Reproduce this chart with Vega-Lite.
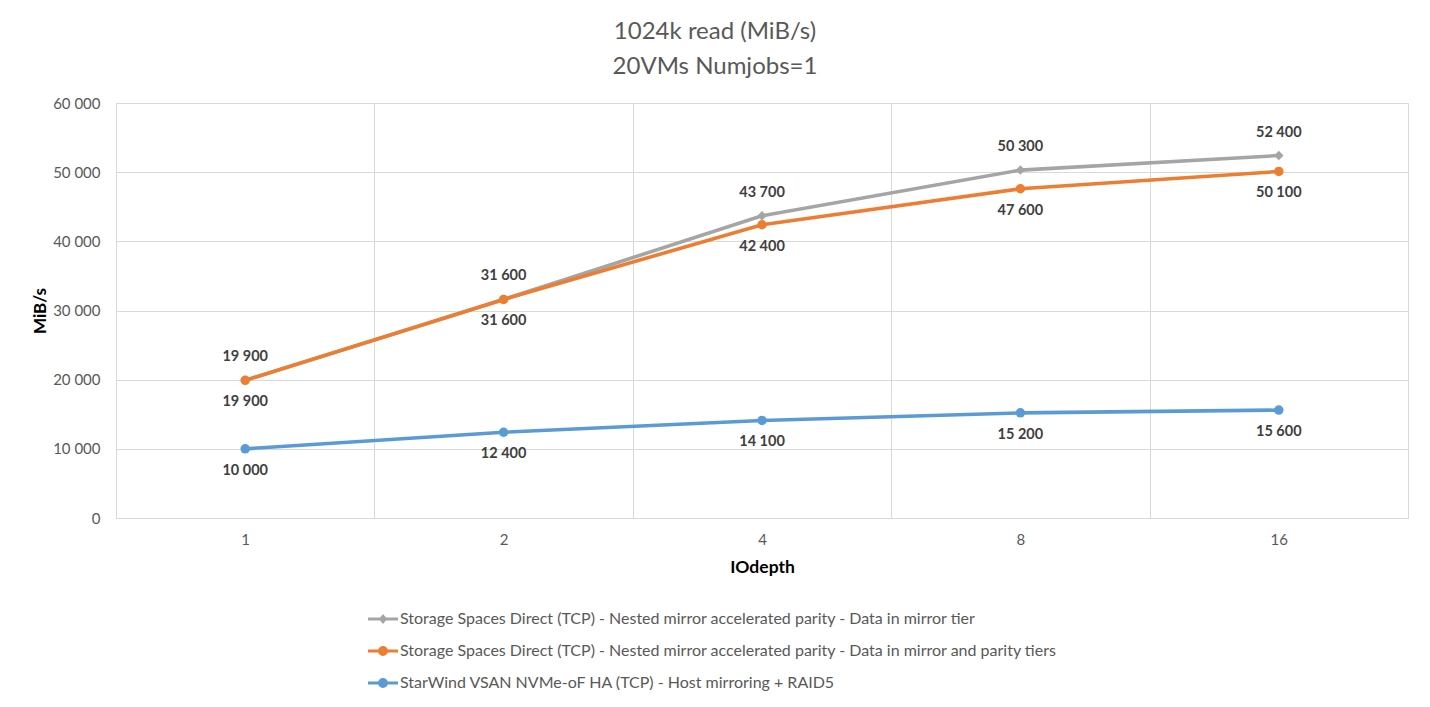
{
  "$schema": "https://vega.github.io/schema/vega-lite/v6.json",
  "width": 1292,
  "height": 415,
  "autosize": "none",
  "padding": {"left": 116, "top": 103, "right": 22, "bottom": 189},
  "background": "#ffffff",
  "title": {
    "text": ["1024k read (MiB/s)", "20VMs Numjobs=1"],
    "anchor": "middle",
    "frame": "group",
    "dx": -47,
    "offset": 17,
    "font": "Lato",
    "fontSize": 24,
    "fontWeight": "normal",
    "color": "#595959",
    "lineHeight": 35
  },
  "config": {
    "locale": {"number": {"decimal": ",", "thousands": " ", "grouping": [3], "currency": ["", ""]}},
    "view": {"stroke": "#d9d9d9", "strokeWidth": 1},
    "font": "Lato"
  },
  "data": {
    "values": [
      {"series": "Storage Spaces Direct (TCP) - Nested mirror accelerated parity - Data in mirror tier", "iodepth": 1, "value": 19900},
      {"series": "Storage Spaces Direct (TCP) - Nested mirror accelerated parity - Data in mirror tier", "iodepth": 2, "value": 31600},
      {"series": "Storage Spaces Direct (TCP) - Nested mirror accelerated parity - Data in mirror tier", "iodepth": 4, "value": 43700},
      {"series": "Storage Spaces Direct (TCP) - Nested mirror accelerated parity - Data in mirror tier", "iodepth": 8, "value": 50300},
      {"series": "Storage Spaces Direct (TCP) - Nested mirror accelerated parity - Data in mirror tier", "iodepth": 16, "value": 52400},
      {"series": "Storage Spaces Direct (TCP) - Nested mirror accelerated parity - Data in mirror and parity tiers", "iodepth": 1, "value": 19900},
      {"series": "Storage Spaces Direct (TCP) - Nested mirror accelerated parity - Data in mirror and parity tiers", "iodepth": 2, "value": 31600},
      {"series": "Storage Spaces Direct (TCP) - Nested mirror accelerated parity - Data in mirror and parity tiers", "iodepth": 4, "value": 42400},
      {"series": "Storage Spaces Direct (TCP) - Nested mirror accelerated parity - Data in mirror and parity tiers", "iodepth": 8, "value": 47600},
      {"series": "Storage Spaces Direct (TCP) - Nested mirror accelerated parity - Data in mirror and parity tiers", "iodepth": 16, "value": 50100},
      {"series": "StarWind VSAN NVMe-oF HA (TCP) - Host mirroring + RAID5", "iodepth": 1, "value": 10000},
      {"series": "StarWind VSAN NVMe-oF HA (TCP) - Host mirroring + RAID5", "iodepth": 2, "value": 12400},
      {"series": "StarWind VSAN NVMe-oF HA (TCP) - Host mirroring + RAID5", "iodepth": 4, "value": 14100},
      {"series": "StarWind VSAN NVMe-oF HA (TCP) - Host mirroring + RAID5", "iodepth": 8, "value": 15200},
      {"series": "StarWind VSAN NVMe-oF HA (TCP) - Host mirroring + RAID5", "iodepth": 16, "value": 15600}
    ]
  },
  "encoding": {
    "x": {
      "field": "iodepth",
      "type": "ordinal",
      "scale": {"type": "band", "paddingInner": 0, "paddingOuter": 0},
      "axis": {
        "title": "IOdepth",
        "labelAngle": 0,
        "tickBand": "extent",
        "grid": true,
        "gridColor": "#d9d9d9",
        "ticks": false,
        "domainColor": "#d9d9d9",
        "labelFont": "Lato",
        "labelFontSize": 15,
        "labelColor": "#595959",
        "labelPadding": 14,
        "titleFont": "Lato",
        "titleFontSize": 17.5,
        "titleFontWeight": "bold",
        "titleColor": "#000000",
        "titlePadding": 11
      }
    },
    "y": {
      "field": "value",
      "type": "quantitative",
      "scale": {"domain": [0, 60000], "nice": false},
      "axis": {
        "title": "MiB/s",
        "values": [0, 10000, 20000, 30000, 40000, 50000, 60000],
        "labelExpr": "format(datum.value, ',')",
        "grid": true,
        "gridColor": "#d9d9d9",
        "ticks": false,
        "domain": false,
        "labelFont": "Lato",
        "labelFontSize": 15,
        "labelColor": "#595959",
        "labelPadding": 16,
        "titleFont": "Lato",
        "titleFontSize": 17,
        "titleFontWeight": "bold",
        "titleColor": "#000000",
        "titlePadding": 3
      }
    },
    "color": {
      "field": "series",
      "type": "nominal",
      "scale": {
        "domain": [
          "Storage Spaces Direct (TCP) - Nested mirror accelerated parity - Data in mirror tier",
          "Storage Spaces Direct (TCP) - Nested mirror accelerated parity - Data in mirror and parity tiers",
          "StarWind VSAN NVMe-oF HA (TCP) - Host mirroring + RAID5"
        ],
        "range": ["#A5A5A5", "#ED7D31", "#5B9BD5"]
      },
      "legend": {
        "orient": "none",
        "legendX": 252,
        "legendY": 501,
        "title": null,
        "direction": "vertical",
        "columns": 1,
        "symbolSize": 900,
        "labelFont": "Lato",
        "labelFontSize": 16,
        "labelColor": "#595959",
        "labelOffset": 2,
        "rowPadding": 9,
        "labelLimit": 0,
        "encode": {
          "symbols": {
            "update": {
              "shape": {"signal": "datum.value === 'Storage Spaces Direct (TCP) - Nested mirror accelerated parity - Data in mirror tier' ? 'M-1,-0.1H1V0.1H-1Z M0,-0.33L0.28,0L0,0.33L-0.28,0Z' : 'M-1,-0.1H1V0.1H-1Z M-0.33,0A0.33,0.33 0 1,1 0.33,0A0.33,0.33 0 1,1 -0.33,0Z'"},
              "fill": {"signal": "scale('color', datum.value)"},
              "fillOpacity": {"value": 1},
              "strokeWidth": {"value": 0}
            }
          }
        }
      }
    }
  },
  "layer": [
    {"mark": {"type": "line", "strokeWidth": 3.6}},
    {
      "transform": [{"filter": "datum.series === 'Storage Spaces Direct (TCP) - Nested mirror accelerated parity - Data in mirror tier'"}],
      "mark": {"type": "point", "filled": true, "opacity": 1, "shape": "diamond", "size": 90}
    },
    {
      "transform": [{"filter": "datum.series !== 'Storage Spaces Direct (TCP) - Nested mirror accelerated parity - Data in mirror tier'"}],
      "mark": {"type": "point", "filled": true, "opacity": 1, "shape": "circle", "size": 90}
    },
    {
      "transform": [{"filter": "datum.series === 'Storage Spaces Direct (TCP) - Nested mirror accelerated parity - Data in mirror tier'"}],
      "mark": {"type": "text", "dy": -23, "font": "Lato", "fontSize": 14.5, "fontWeight": "bold", "color": "#404040"},
      "encoding": {"text": {"field": "value", "type": "quantitative", "format": ","}, "color": {"value": "#404040"}}
    },
    {
      "transform": [{"filter": "datum.series !== 'Storage Spaces Direct (TCP) - Nested mirror accelerated parity - Data in mirror tier'"}],
      "mark": {"type": "text", "dy": 22, "font": "Lato", "fontSize": 14.5, "fontWeight": "bold", "color": "#404040"},
      "encoding": {"text": {"field": "value", "type": "quantitative", "format": ","}, "color": {"value": "#404040"}}
    }
  ]
}
